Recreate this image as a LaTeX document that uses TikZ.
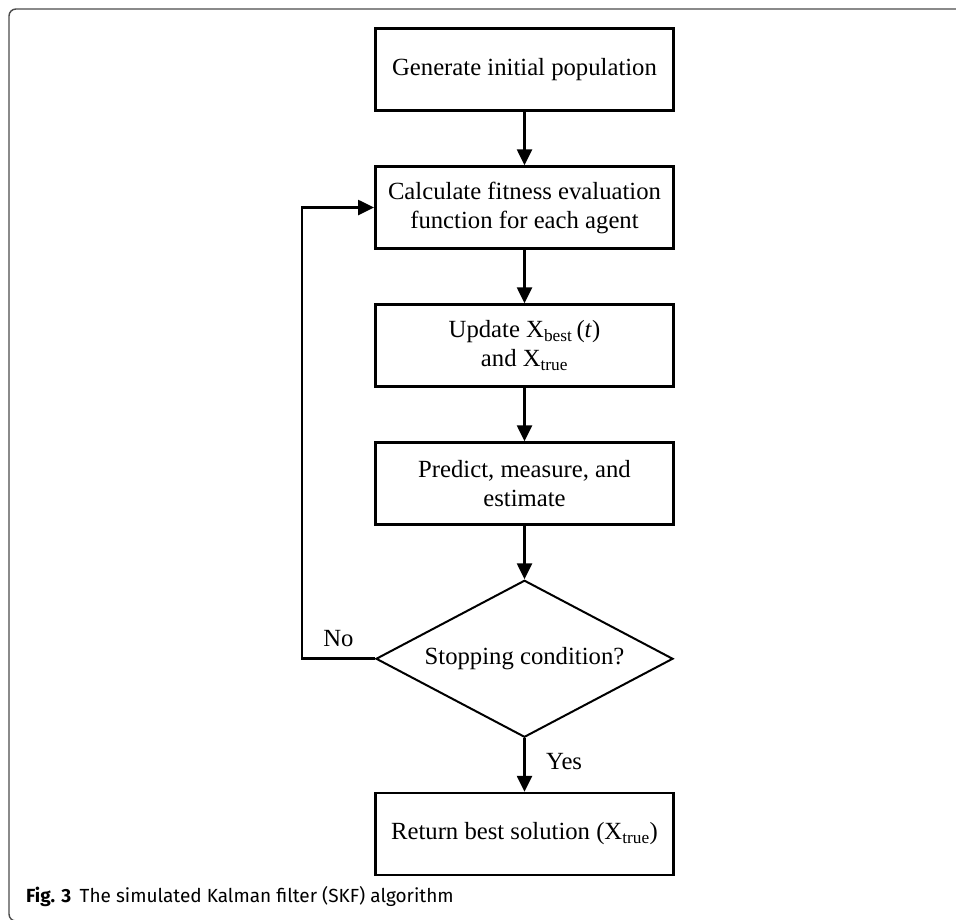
\documentclass[tikz,border=0pt]{standalone}
\usepackage{fontspec}
\setmainfont{Liberation Serif}
\newfontfamily\capsans{Fira Sans}
\usetikzlibrary{positioning,shapes.geometric,arrows.meta}

\begin{document}
\begin{tikzpicture}[x=1pt,y=-1pt,
every node/.style={font=\fontsize{24.7}{29}\selectfont},
procbox/.style={draw,line width=2.6pt,minimum width=298.4pt,minimum height=81.9pt,
align=center,inner sep=0pt},
decbox/.style={diamond,draw,line width=2pt,minimum width=297pt,minimum height=157pt,
shape aspect=1.9,inner sep=0pt},
flow/.style={line width=2.6pt,-{Triangle[width=15pt,length=16pt]}},
node distance=53.5pt]
\useasboundingbox (0,0) rectangle (956,919);
\clip (0,0) rectangle (956,919);
\draw[black!70,line width=1.4pt,rounded corners=7pt] (970,9) -- (9,9) -- (9,921) -- (970,921);
\node[procbox] (init) at (524.5,69.5) {Generate initial population};
\node[procbox,below=of init] (fit) {Calculate fitness evaluation\\function for each agent};
\node[procbox,below=of fit] (upd) {Update X\textsubscript{best}\,(\textit{t})\\and X\textsubscript{true}};
\node[procbox,below=of upd] (pme) {Predict, measure, and\\estimate};
\node[decbox,below=of pme] (stop) {Stopping condition?};
\node[procbox,below=of stop] (ret) {Return best solution (X\textsubscript{true})};
\draw[flow] (init) -- (fit);
\draw[flow] (fit) -- (upd);
\draw[flow] (upd) -- (pme);
\draw[flow] (pme) -- (stop);
\draw[flow] (stop) -- node[right=17pt,pos=0.43] {Yes} (ret);
\draw[flow] (stop.west) -- node[above=7pt] {No} ++(-73,0) coordinate (back) |- (fit.west);
\node[anchor=base west,inner sep=0pt,font=\capsans\fontsize{19}{22}\selectfont] (cap) at (26,902)
{\textbf{Fig. 3}\hspace{0.45em}The simulated Kalman filter (SKF) algorithm};
\end{tikzpicture}
\end{document}
